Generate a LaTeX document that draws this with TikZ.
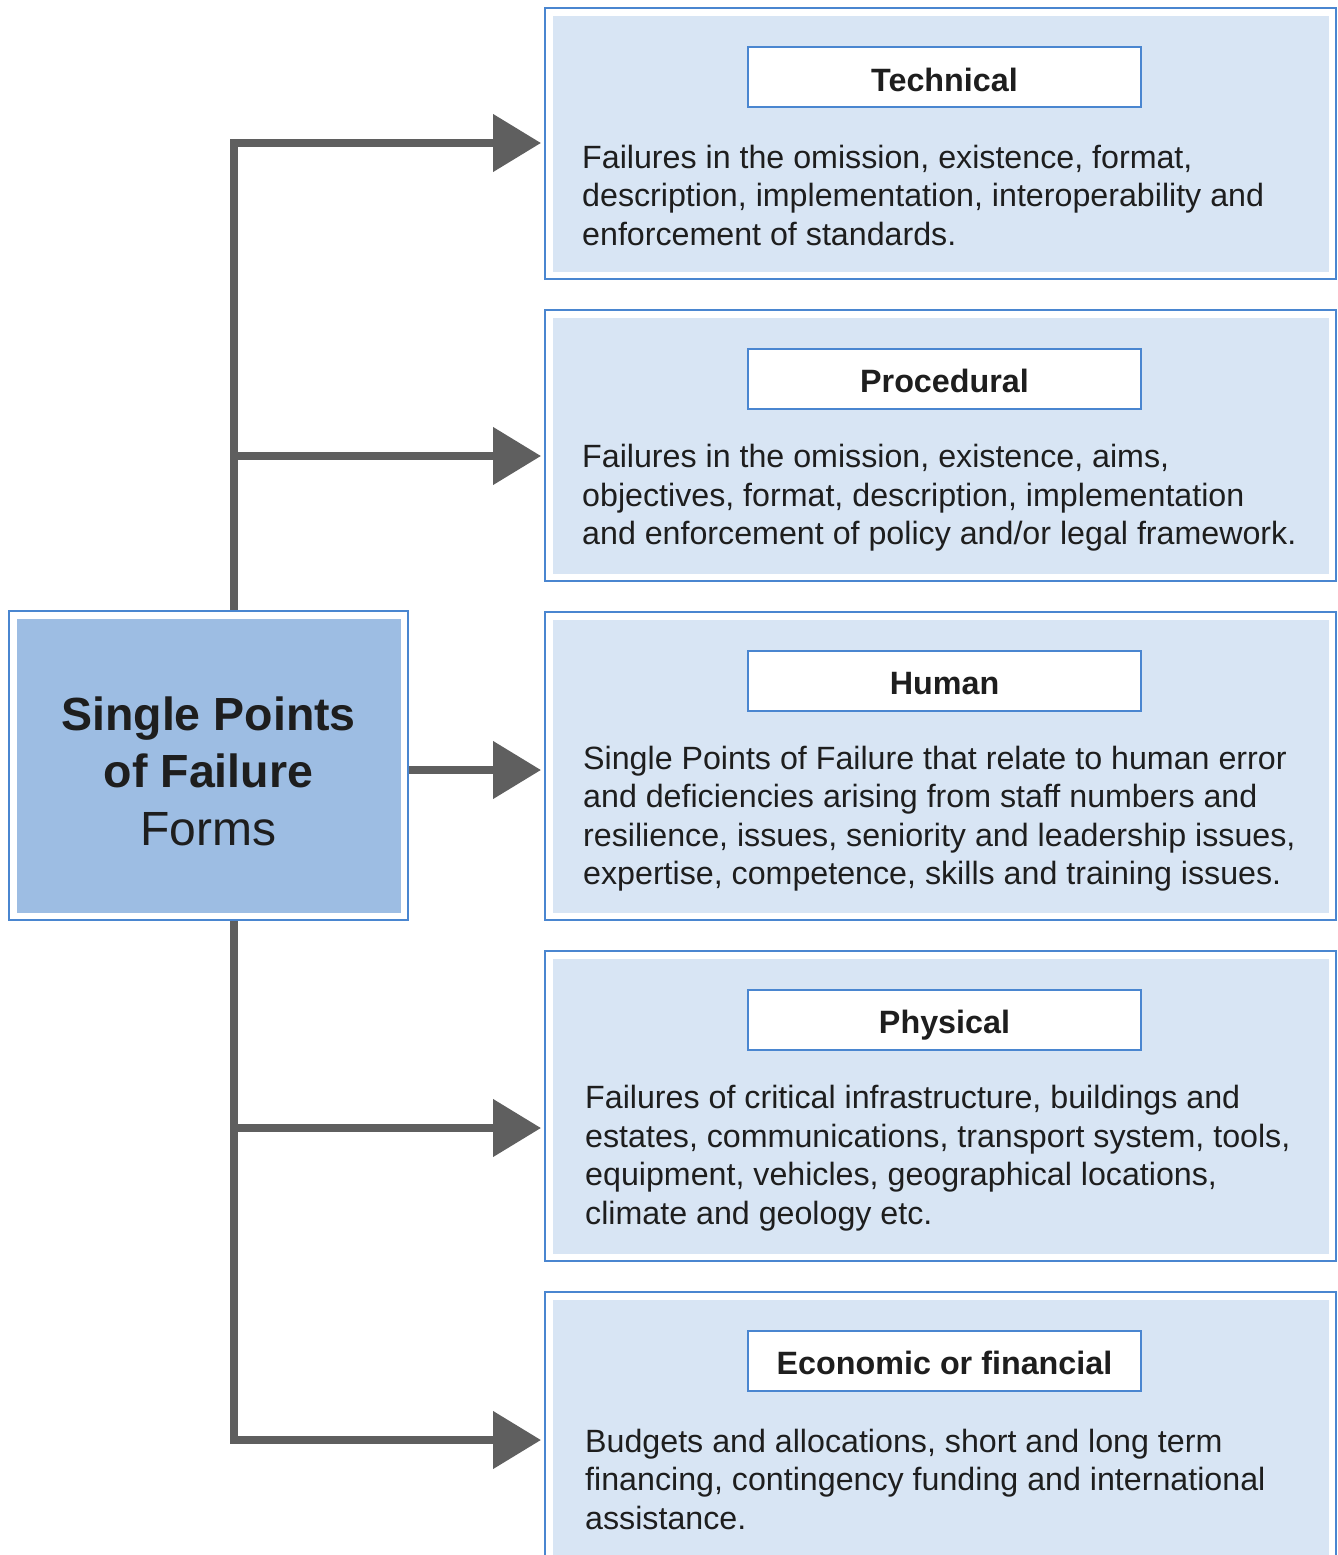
\documentclass[tikz,border=0pt]{standalone}
\usepackage{fontspec}
\setmainfont{Liberation Sans}
\usetikzlibrary{arrows.meta}
\definecolor{bord}{HTML}{4A86D0}
\definecolor{lightfill}{HTML}{D8E5F4}
\definecolor{darkfill}{HTML}{9DBDE3}
\definecolor{conn}{HTML}{5F5F5F}
\definecolor{txt}{HTML}{1E1E1E}
\begin{document}
\begin{tikzpicture}[x=1pt,y=-1pt,
  outerbox/.style={draw=bord, line width=2.5pt, fill=white, inner sep=0pt, minimum width=791pt},
  titlebox/.style={draw=bord, line width=2pt, fill=white, inner sep=0pt, minimum width=393pt, minimum height=60pt,
     text height=28pt, text depth=0pt, text=txt, font=\fontsize{32.3}{36}\selectfont\bfseries},
  bodytext/.style={anchor=west, align=left, inner sep=0pt, text=txt, font=\fontsize{32.2}{38.5}\selectfont},
  conn/.style={draw=conn, line width=8pt, line join=miter, -{Triangle[length=48pt,width=56pt]}},
  trunk/.style={draw=conn, line width=8pt}
]
\useasboundingbox (0,0) rectangle (1338,1555);
% right boxes
\node[outerbox, minimum height=271pt] (b1) at (940.5,143.5) {};
\node[outerbox, minimum height=271pt] (b2) at (940.5,445.5) {};
\node[outerbox, minimum height=308pt] (b3) at (940.5,766) {};
\node[outerbox, minimum height=310pt] (b4) at (940.5,1106) {};
\node[outerbox, minimum height=290pt] (b5) at (940.5,1437) {};
\foreach \b in {b1,b2,b3,b4,b5}{
  \fill[lightfill] ([shift={(9.5,9)}]\b.north west) rectangle ([shift={(-8,-8)}]\b.south east);
}
% left box
\node[draw=bord, line width=2.5pt, fill=white, inner sep=0pt, minimum width=399pt, minimum height=309pt] (src) at (208.5,765.5) {};
\fill[darkfill] ([shift={(9,9)}]src.north west) rectangle ([shift={(-8,-8)}]src.south east);
\node[text=txt, align=center, inner sep=0pt, font=\fontsize{46.5}{57.5}\selectfont] (srctxt) at (208.5,771)
  {\bfseries Single Points\\ \bfseries of Failure\\ \fontsize{48}{57.5}\selectfont\mdseries Forms};
% titles
\node[titlebox] (t1) at (944.5,77) {Technical};
\node[titlebox] (t2) at (944.5,378.5) {Procedural};
\node[titlebox] (t3) at (944.5,680.5) {Human};
\node[titlebox] (t4) at (944.5,1019.5) {Physical};
\node[titlebox] (t5) at (944.5,1360.5) {Economic or financial};
% body texts
\node[bodytext] (x1) at (582,195) {Failures in the omission, existence, format,\\description, implementation, interoperability and\\enforcement of standards.};
\node[bodytext] (x2) at (582,498) {Failures in the omission, existence, aims,\\objectives, format, description, implementation\\and enforcement of policy and/or legal framework.};
\node[bodytext] (x3) at (583,818.5) {Single Points of Failure that relate to human error\\and deficiencies arising from staff numbers and\\resilience, issues, seniority and leadership issues,\\expertise, competence, skills and training issues.};
\node[bodytext] (x4) at (585,1158) {Failures of critical infrastructure, buildings and\\estates, communications, transport system, tools,\\equipment, vehicles, geographical locations,\\climate and geology etc.};
\node[bodytext] (x5) at (585,1479) {Budgets and allocations, short and long term\\financing, contingency funding and international\\assistance.};
% connectors
\coordinate (top) at (234,143);
\coordinate (bot) at (234,1440);
\coordinate (e1) at (541,143);
\coordinate (e2) at (541,456);
\coordinate (e3) at (541,770);
\coordinate (e4) at (541,1128);
\coordinate (e5) at (541,1440);
\coordinate (j2) at (234,456);
\coordinate (j4) at (234,1128);
\draw[trunk] (src.north -| top) -- ([yshift=4pt]top);
\draw[conn] ([xshift=-4pt]top) -- (e1);
\draw[conn] (j2) -- (e2);
\draw[conn] (src.east |- e3) -- (e3);
\draw[trunk] (src.south -| bot) -- ([yshift=-4pt]bot);
\draw[conn] ([xshift=-4pt]bot) -- (e5);
\draw[conn] (j4) -- (e4);
\end{tikzpicture}
\end{document}
